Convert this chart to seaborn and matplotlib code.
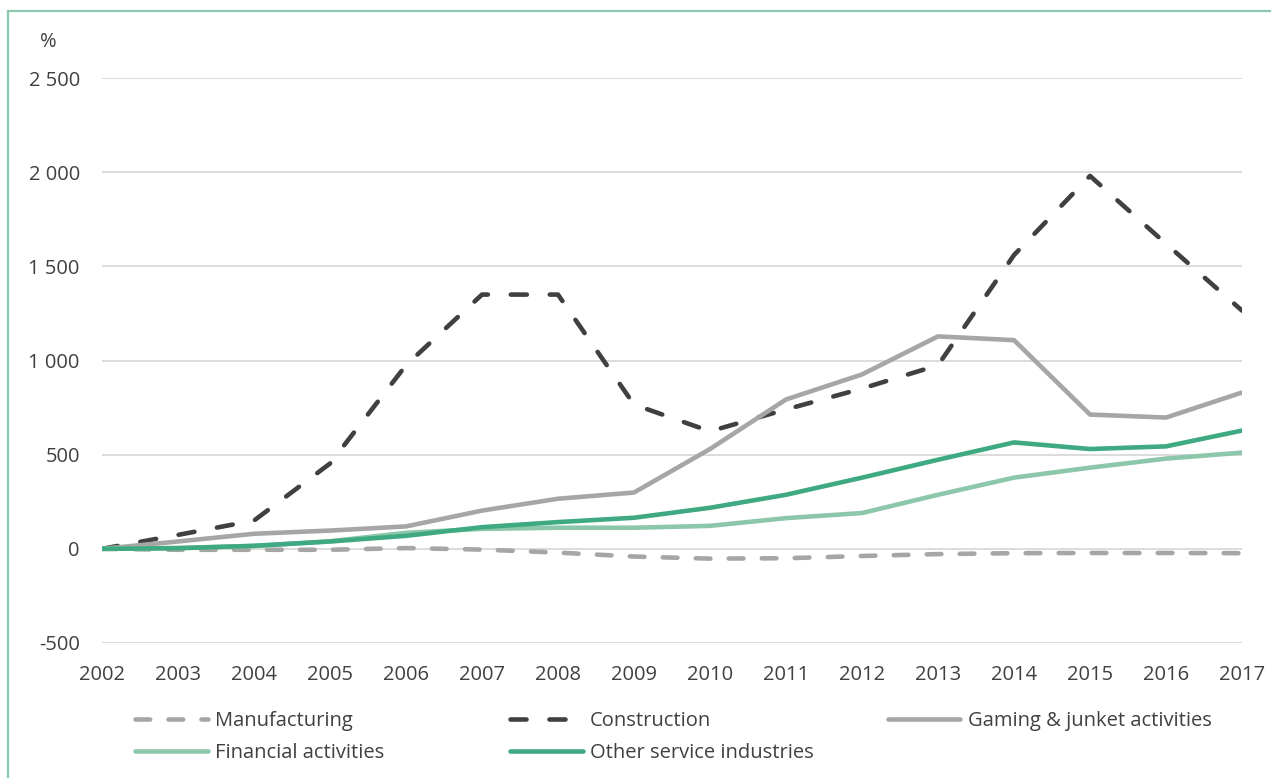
import pandas as pd
import seaborn as sns
import matplotlib.pyplot as plt
from matplotlib.ticker import FuncFormatter, MultipleLocator
from matplotlib.patches import Rectangle

years = list(range(2002, 2018))
manufacturing = [0, -5, -5, -5, 4, -4, -20, -41, -52, -50, -38, -28, -23, -22, -22, -23]
construction = [0, 74, 150, 453, 975, 1350, 1350, 766, 624, 740, 851, 975, 1560, 1980, 1620, 1265]
gaming = [0, 39, 80, 97, 119, 203, 266, 299, 530, 793, 926, 1128, 1108, 713, 697, 830]
financial = [0, 5, 15, 40, 85, 106, 112, 112, 122, 163, 190, 287, 378, 431, 479, 511]
other_services = [0, 3, 16, 39, 69, 115, 142, 165, 218, 287, 378, 473, 565, 530, 544, 628]

sns.set_style("white")
plt.rcParams['font.family'] = ['Open Sans', 'DejaVu Sans']
txt = '#404040'

df = pd.DataFrame({"year": years,
                   "Manufacturing": manufacturing,
                   "Construction": construction,
                   "Gaming & junket activities": gaming,
                   "Financial activities": financial,
                   "Other service industries": other_services})

fig = plt.figure(figsize=(12.71, 7.78), dpi=100)
W, H = 1271, 778
ax = fig.add_axes([102 / W, 1 - 643 / H, (1242 - 102) / W, (643 - 78) / H])

# frame around the chart
fig.patches.append(Rectangle((7.5 / W, -0.1), 1.2, 1 - 11 / H + 0.1, transform=fig.transFigure,
                             fill=False, ec='#8cc8ae', lw=1.6, zorder=0))

lw = 3.3
styles = {
    "Manufacturing": dict(color='#a6a6a6', dashes=(3.2, 4.0)),
    "Construction": dict(color='#404040', dashes=(3.5, 5.0)),
    "Gaming & junket activities": dict(color='#a6a6a6'),
    "Financial activities": dict(color='#8cc7ab'),
    "Other service industries": dict(color='#3faa82'),
}
lines = {}
for name, st in styles.items():
    sns.lineplot(data=df, x="year", y=name, ax=ax, color=st['color'], lw=lw, label=name)
    ln = ax.get_lines()[-1]
    if 'dashes' in st:
        ln.set_dashes(st['dashes'])
        ln.set_dash_capstyle('round')
    lines[name] = ln

ax.set_xlim(2002, 2017)
ax.set_ylim(-500, 2500)
ax.yaxis.set_major_locator(MultipleLocator(500))
ax.xaxis.set_major_locator(MultipleLocator(1))
ax.yaxis.set_major_formatter(FuncFormatter(lambda v, p: f"{v:,.0f}".replace(",", " ")))
ax.grid(axis='y', color='#d9d9d9', lw=1.3)
ax.set_axisbelow(True)
for s in ax.spines.values():
    s.set_visible(False)
ax.tick_params(axis='both', length=0, labelsize=14.5, colors=txt)
ax.tick_params(axis='y', pad=16)
ax.tick_params(axis='x', pad=16)
ax.set_xlabel('')
ax.set_ylabel('')
ax.get_legend().remove()

fig.text(48 / W, 1 - 42 / H, '%', fontsize=14.5, color=txt, ha='center', va='center')

cols = [(135, ["Manufacturing", "Financial activities"]),
        (510, ["Construction", "Other service industries"]),
        (888, ["Gaming & junket activities"])]
for x0, names in cols:
    leg = fig.legend([lines[n] for n in names], names, loc='upper left',
                     bbox_to_anchor=(x0 / W, 1 - 711 / H), frameon=False,
                     fontsize=14.5, labelcolor=txt, handlelength=3.6, handletextpad=0.35,
                     labelspacing=0.6, borderpad=0, borderaxespad=0)

fig.savefig("out.png", dpi=100)
